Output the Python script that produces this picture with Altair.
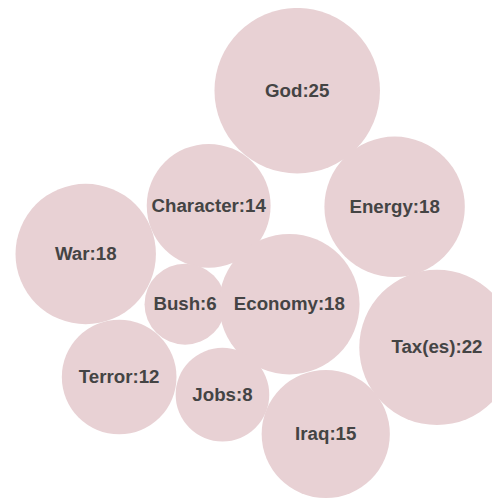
import altair as alt
import pandas as pd

labels = ["God", "Character", "Energy", "War", "Bush", "Economy", "Tax(es)", "Terror", "Jobs", "Iraq"]
values = [25, 14, 18, 18, 6, 18, 22, 12, 8, 15]
xs = [294, 204, 393, 79, 180, 286, 436, 113, 218, 323]
ys = [80, 197, 198, 246, 297, 297, 341, 371, 389, 429]

df = pd.DataFrame({"label": labels, "value": values, "x": xs, "y": ys})
df["text"] = df["label"] + ":" + df["value"].astype(str)

W = 492
xsc = alt.Scale(domain=[0, W], nice=False, zero=False)
ysc = alt.Scale(domain=[W, 0], nice=False, zero=False)

base = alt.Chart(df).encode(
    x=alt.X("x:Q", scale=xsc, axis=None),
    y=alt.Y("y:Q", scale=ysc, axis=None),
)

circles = base.mark_circle(opacity=1, color="#e8d1d4").encode(
    size=alt.Size("value:Q", scale=alt.Scale(domain=[0, 25], range=[0, 28300]), legend=None)
)

texts = base.mark_text(font="Liberation Sans", fontWeight="bold", fontSize=19, color="#444444").encode(
    text="text:N"
)

chart = (circles + texts).properties(
    width=W, height=W, padding=0, autosize=alt.AutoSizeParams(type="none")
).configure_view(stroke=None)

chart.save("out.html", embed_options={"renderer": "svg", "actions": False})
